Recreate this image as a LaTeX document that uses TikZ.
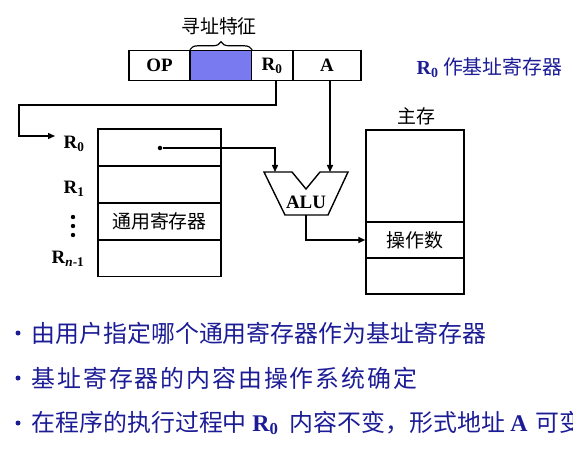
\documentclass[tikz,border=0pt]{standalone}
\usepackage{fontspec}
\setmainfont{Liberation Serif}
\newfontfamily\cjk{Noto Sans CJK SC}
\usetikzlibrary{arrows.meta,decorations.pathreplacing}
\definecolor{fieldblue}{RGB}{122,122,240}
\definecolor{noteblue}{RGB}{28,28,150}
\newcommand\bR[1]{{\rmfamily\bfseries R\textsubscript{#1}}}
\begin{document}
\begin{tikzpicture}[x=1bp, y=1bp, line width=1.4bp,
    cell/.style={draw, minimum height=30bp, inner sep=0pt, font=\fontsize{19}{22}\selectfont\bfseries},
    reg/.style={draw, minimum width=123bp, minimum height=37bp, inner sep=0pt, font=\fontsize{19}{22}\selectfont\cjk},
    mem/.style={draw, minimum width=98bp, inner sep=0pt, font=\fontsize{19}{22}\selectfont\cjk},
    lbl/.style={inner sep=0pt, font=\fontsize{19}{22}\selectfont\bfseries},
    cn/.style={inner sep=0pt, font=\fontsize{19}{22}\selectfont\cjk},
    note/.style={inner sep=0pt, anchor=west, text=noteblue, font=\fontsize{24}{28}\selectfont\cjk},
    bullet/.style={circle, fill=noteblue, inner sep=0pt, minimum size=5bp},
    arr/.style={-{Triangle[length=7bp, width=6bp]}}]
  \useasboundingbox (0,0) rectangle (573,-459);
  % ---- instruction format --------------------------------------------------
  \node[cell, minimum width=61bp] (op) at (159.5,-65.5) {OP};
  \node[cell, minimum width=61bp, fill=fieldblue] (addr) at (221,-65.5) {};
  \node[cell, minimum width=41bp] (r0f) at (272,-65.5) {R\textsubscript{0}};
  \node[cell, minimum width=68bp] (af) at (327,-65.5) {A};
  \draw[line width=1.2bp, decorate, decoration={brace, amplitude=8bp}]
    (addr.north west) -- (addr.north east);
  \node[cn] (feat) at (219,-26) {寻址特征};
  \node[note, font=\fontsize{20}{24}\selectfont\cjk] (base) at (416,-68) {\bR{0} 作基址寄存器};
  % ---- general registers ---------------------------------------------------
  \foreach \n/\y/\t in {0/147.5/, 1/184.5/, 2/221.5/通用寄存器, 3/258/} {
    \node[reg] (reg\n) at (159.5,-\y) {\t};}
  \node[lbl] (lr0) at (74,-144) {R\textsubscript{0}};
  \node[lbl] (lr1) at (74,-189) {R\textsubscript{1}};
  \node[lbl] (lrn) at (68,-259) {R\textsubscript{\textit{n}-1}};
  \foreach \y in {217,226,235} {
    \fill (73,-\y) circle (2.2bp);}
  \node[circle, fill, inner sep=1.6bp] (r0dot) at (160,-148) {};
  % ---- ALU -----------------------------------------------------------------
  \draw (264,-172) -- (292,-172) -- (306,-189) -- (320,-172) -- (348,-172)
    -- (328,-215) -- (285,-215) -- cycle;
  \node[lbl] (alu) at (306,-202) {ALU};
  \coordinate (aluin1) at (275,-172);
  \coordinate (aluin2) at (330,-172);
  \coordinate (aluout) at (306,-215);
  % ---- main memory ---------------------------------------------------------
  \node[mem, minimum height=92bp] (memtop) at (415,-176) {};
  \node[mem, minimum height=36bp] (memop) at (415,-240) {操作数};
  \node[mem, minimum height=36bp] (membot) at (415,-276) {};
  \node[cn] (main) at (416,-116) {主存};
  % ---- connectors ----------------------------------------------------------
  \coordinate (bend) at (19,-105);
  \coordinate (r0in) at (55,-136);
  \draw[arr] ([xshift=4bp]r0f.south) |- (bend) |- (r0in);
  \draw[arr] (r0dot) -| (aluin1);
  \draw[arr] (af.south -| aluin2) -- (aluin2);
  \draw[arr] (aluout) |- (memop.west);
  % ---- notes ---------------------------------------------------------------
  \foreach \y/\t in {333/{由用户指定哪个通用寄存器作为基址寄存器},
                     378/{\addfontfeature{LetterSpace=8}基址寄存器的内容由操作系统确定},
                     423/{在程序的执行过程中 \bR{0}\hspace{6bp} 内容不变，形式地址 {\rmfamily\bfseries A}\hspace{3bp} 可变}} {
    \node[bullet] at (18,-\y) {};
    \node[note] at (31,-\y) {\t};}
\end{tikzpicture}
\end{document}
